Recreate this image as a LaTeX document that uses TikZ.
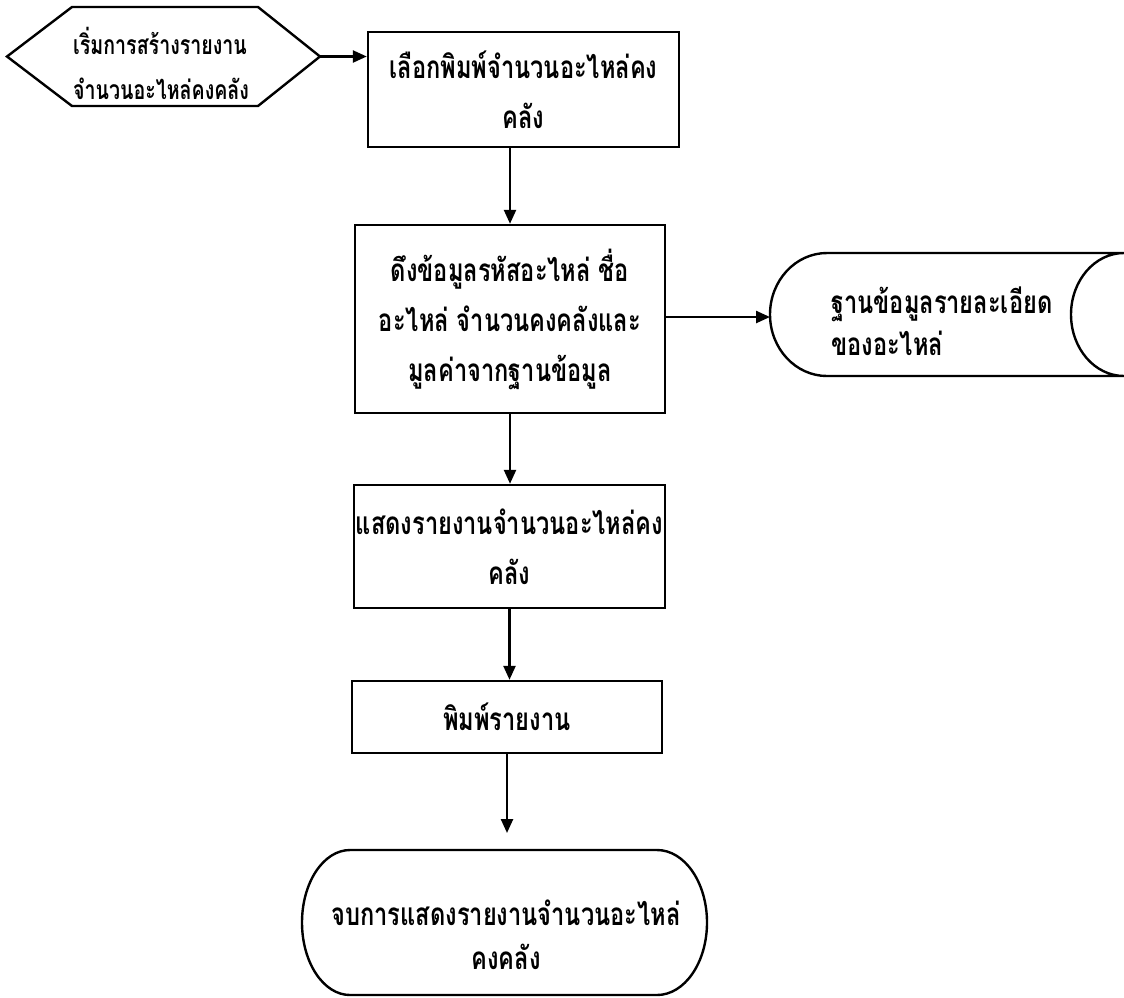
\documentclass[tikz,border=0pt]{standalone}
\usepackage{fontspec}
\newfontfamily\thaifont[Script=Thai, FakeStretch=0.75]{Loma}
\newfontfamily\thaicond[Script=Thai, FakeStretch=0.74]{Loma}
\usetikzlibrary{arrows.meta,calc}
\begin{document}
\begin{tikzpicture}[x=1pt,y=-1pt,
  line width=2.4pt,
  every node/.style={font=\thaifont\bfseries\fontsize{31.5}{50}\selectfont, inner sep=0pt},
  flow/.style={-{Triangle[length=14pt,width=12pt]}},
  stepbox/.style={draw, rectangle, align=center},
  frame/.style={outer sep=0pt},
  label text/.style={align=left, font=\thaifont\bfseries\fontsize{31.5}{42}\selectfont}
]
\useasboundingbox (0,0) rectangle (1124,997);
\fill[white] (0,0) rectangle (1124,997);

% start (hexagon)
\node[frame, minimum width=313pt, minimum height=99pt] (start) at (163.5,56.5) {};
\draw (start.west) -- ($(start.north west)+(65,0)$) -- ($(start.north east)+(-62,0)$)
  -- (start.east) -- ($(start.south east)+(-62,0)$) -- ($(start.south west)+(65,0)$) -- cycle;
\node[label text, anchor=west, font=\thaicond\bfseries\fontsize{26.5}{45}\selectfont]
  (starttext) at (72,63) {เริ่มการสร้างรายงาน\\จำนวนอะไหล่คงคลัง};

% process boxes
\node[stepbox, minimum width=311pt, minimum height=115pt] (select) at (523.5,89.5)
  {เลือกพิมพ์จำนวนอะไหล่คง\\คลัง};
\node[stepbox, minimum width=310pt, minimum height=188pt] (fetch) at (510,319)
  {ดึงข้อมูลรหัสอะไหล่ ชื่อ\\อะไหล่ จำนวนคงคลังและ\\มูลค่าจากฐานข้อมูล};
\node[stepbox, minimum width=311pt, minimum height=123pt] (show) at (509.5,546.5)
  {แสดงรายงานจำนวนอะไหล่คง\\คลัง};
\node[stepbox, minimum width=310pt, minimum height=72pt] (print) at (507,717)
  {พิมพ์รายงาน};

% stored data
\node[frame, minimum width=354pt, minimum height=123pt] (db) at (947,314.5) {};
\draw ($(db.north west)+(57,0)$) -- (db.north east)
  arc[start angle=90, end angle=270, x radius=53pt, y radius=61.5pt]
  -- ($(db.south west)+(57,0)$)
  arc[start angle=270, end angle=90, x radius=57pt, y radius=61.5pt] -- cycle;
\node[label text, anchor=west] (dbtext) at (830,321) {ฐานข้อมูลรายละเอียด\\ของอะไหล่};

% terminator
\node[frame, minimum width=405pt, minimum height=145pt] (finish) at (504.5,922.5) {};
\draw ($(finish.north west)+(48,0)$) -- ($(finish.north east)+(-50,0)$)
  arc[start angle=90, end angle=-90, x radius=50pt, y radius=72.5pt]
  -- ($(finish.south west)+(48,0)$)
  arc[start angle=270, end angle=90, x radius=48pt, y radius=72.5pt] -- cycle;
\node[align=center, font=\thaifont\bfseries\fontsize{31.5}{44}\selectfont]
  (finishtext) at (506,935) {จบการแสดงรายงานจำนวนอะไหล่\\คงคลัง};

% connectors
\coordinate (dbin) at ($(db.west)+(0,2.5)$);
\draw[flow] (start.east) -- (start.east -| select.west);
\draw[flow] (select.south -| fetch.north) -- (fetch.north);
\draw[flow] (fetch.east |- dbin) -- (dbin);
\draw[flow] (fetch.south) -- (show.north -| fetch.south);
\draw[flow] (show.south) -- (print.north -| show.south);
\draw[flow, shorten >=17pt] (print.south) -- (finish.north -| print.south);
\end{tikzpicture}
\end{document}
